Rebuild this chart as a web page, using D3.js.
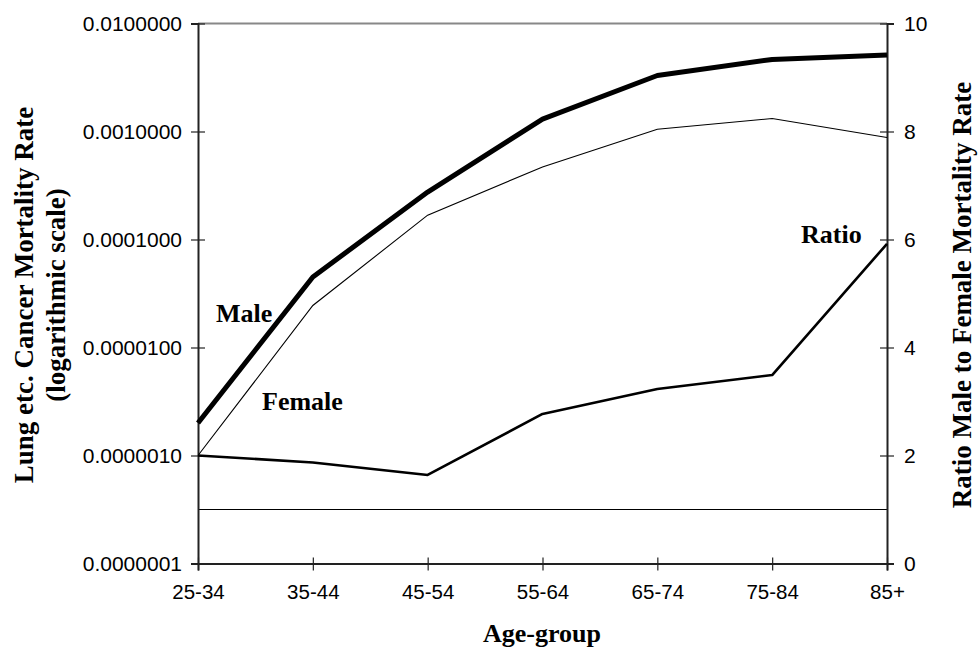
<!DOCTYPE html>
<html><head><meta charset="utf-8">
<script src="https://cdn.jsdelivr.net/npm/d3@7"></script>
<style>body{margin:0;background:#fff}svg{display:block}</style>
</head><body>
<svg id="chart" width="978" height="652"></svg>
<script>
const categories = ["25-34","35-44","45-54","55-64","65-74","75-84","85+"];
const maleRates = [2.0e-6, 4.5e-5, 2.75e-4, 1.3e-3, 3.3e-3, 4.65e-3, 5.1e-3];
const femaleRates = [1.0e-6, 2.45e-5, 1.68e-4, 4.7e-4, 1.05e-3, 1.32e-3, 8.8e-4];
const ratioValues = [2.0, 1.87, 1.64, 2.77, 3.23, 3.49, 5.92];
const parityValue = 1;
const leftTicks = [1e-7, 1e-6, 1e-5, 1e-4, 1e-3, 1e-2];
const rightTicks = [0, 2, 4, 6, 8, 10];

const svg = d3.select("#chart");
const L = 198, R = 887, T = 23.5, B = 563.5;

const x = d3.scalePoint().domain(categories).range([L, R]);
const yL = d3.scaleLog().domain([1e-7, 1e-2]).range([B, T]);
const yR = d3.scaleLinear().domain([0, 10]).range([B, T]);

const tickFont = "'Liberation Sans', Arial, sans-serif";
const serif = "'Liberation Serif', 'Times New Roman', serif";

// top border
svg.append("line").attr("x1", L).attr("x2", R).attr("y1", T).attr("y2", T)
  .attr("stroke", "#888").attr("stroke-width", 2);

// parity line
svg.append("line").attr("x1", L).attr("x2", R)
  .attr("y1", yR(parityValue)).attr("y2", yR(parityValue))
  .attr("stroke", "#000").attr("stroke-width", 1);

function styleAxis(g, fs) {
  g.select(".domain").attr("stroke", "#222").attr("stroke-width", 2);
  g.selectAll(".tick line").attr("stroke", "#222").attr("stroke-width", 1.2);
  g.selectAll(".tick text").attr("font-family", tickFont).attr("font-size", fs).attr("fill", "#000");
}

// left axis
const gL = svg.append("g").attr("transform", `translate(${L},0)`)
  .call(d3.axisLeft(yL).tickValues(leftTicks).tickFormat(d => d.toFixed(7)).tickSizeOuter(0).tickSize(7).tickPadding(9));
styleAxis(gL, 21);
gL.selectAll(".tick line").attr("x1", 7);

// right axis
const gR = svg.append("g").attr("transform", `translate(${R},0)`)
  .call(d3.axisRight(yR).tickValues(rightTicks).tickFormat(d3.format("d")).tickSizeOuter(0).tickSize(7).tickPadding(10));
styleAxis(gR, 21);
gR.selectAll(".tick line").attr("x1", -7);

// bottom axis
const gB = svg.append("g").attr("transform", `translate(0,${B})`)
  .call(d3.axisBottom(x).tickSizeOuter(0).tickSize(7).tickPadding(14));
styleAxis(gB, 20.5);
gB.selectAll(".tick line").attr("y1", -6);

// lines
const lineLog = d3.line().x((d, i) => x(categories[i])).y(d => yL(d));
const lineLin = d3.line().x((d, i) => x(categories[i])).y(d => yR(d));

svg.append("path").datum(femaleRates).attr("d", lineLog)
  .attr("fill", "none").attr("stroke", "#000").attr("stroke-width", 1.1);
svg.append("path").datum(ratioValues).attr("d", lineLin)
  .attr("fill", "none").attr("stroke", "#000").attr("stroke-width", 2.6).attr("stroke-linejoin", "round");
svg.append("path").datum(maleRates).attr("d", lineLog)
  .attr("fill", "none").attr("stroke", "#000").attr("stroke-width", 5).attr("stroke-linejoin", "round");

// series labels
const lab = (t, xx, yy) => svg.append("text").attr("x", xx).attr("y", yy).text(t)
  .attr("font-family", serif).attr("font-weight", "bold").attr("font-size", 26).attr("fill", "#000");
lab("Male", 216, 322);
lab("Female", 262, 410);
lab("Ratio", 801, 243);

// axis titles
svg.append("text").attr("transform", "translate(542,642)")
  .attr("text-anchor", "middle").attr("font-family", serif).attr("font-weight", "bold")
  .attr("font-size", 26).text("Age-group");

const lt = svg.append("g").attr("transform", "translate(0,295) rotate(-90)");
lt.append("text").attr("x", 0).attr("y", 33).attr("text-anchor", "middle")
  .attr("font-family", serif).attr("font-weight", "bold").attr("font-size", 27)
  .text("Lung etc. Cancer Mortality Rate");
lt.append("text").attr("x", 0).attr("y", 65).attr("text-anchor", "middle")
  .attr("font-family", serif).attr("font-weight", "bold").attr("font-size", 27)
  .text("(logarithmic scale)");

svg.append("text").attr("transform", "translate(971,295) rotate(-90)")
  .attr("text-anchor", "middle").attr("font-family", serif).attr("font-weight", "bold")
  .attr("font-size", 27).text("Ratio Male to Female Mortality Rate");
</script>
</body></html>
